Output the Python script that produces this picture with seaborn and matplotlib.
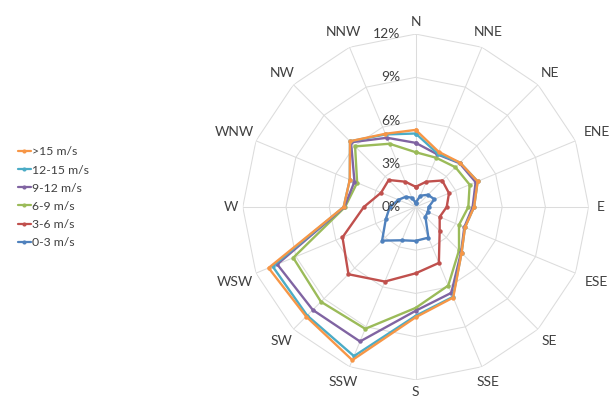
import numpy as np
import pandas as pd
import seaborn as sns
import matplotlib.pyplot as plt
from matplotlib import transforms
from matplotlib.lines import Line2D

# wind rose values (% of time)
directions = ['N', 'NNE', 'NE', 'ENE', 'E', 'ESE', 'SE', 'SSE',
              'S', 'SSW', 'SW', 'WSW', 'W', 'WNW', 'NW', 'NNW']
v_0_3 = [0.3, 0.85, 1.2, 1.4, 0.9, 0.9, 0.95, 2.3, 2.35, 2.5, 3.3, 2.25, 1.8, 1.3, 1.0, 0.7]
v_3_6 = [1.4, 1.9, 2.6, 2.5, 2.15, 1.8, 2.35, 4.2, 4.6, 5.6, 6.6, 5.5, 3.6, 2.6, 2.65, 1.9]
v_6_9 = [3.8, 3.7, 3.9, 4.05, 3.65, 3.25, 4.25, 5.9, 7.0, 9.15, 9.3, 9.2, 4.9, 4.4, 5.95, 4.75]
v_9_12 = [4.45, 3.95, 4.3, 4.5, 3.95, 3.65, 4.45, 6.45, 7.2, 10.1, 10.1, 10.4, 4.95, 4.6, 6.35, 5.2]
v_12_15 = [5.1, 4.0, 4.35, 4.65, 4.05, 3.7, 4.5, 6.75, 7.55, 11.2, 10.65, 10.75, 5.0, 4.95, 6.45, 5.45]
v_15 = [5.35, 4.15, 4.35, 4.65, 4.05, 3.7, 4.5, 6.8, 7.65, 11.5, 10.75, 11.05, 5.0, 4.95, 6.45, 5.5]
series = ['0-3 m/s', '3-6 m/s', '6-9 m/s', '9-12 m/s', '12-15 m/s', '>15 m/s']
values = [v_0_3, v_3_6, v_6_9, v_9_12, v_12_15, v_15]
rings = [3, 6, 9, 12]
ring_labels = ['0%', '3%', '6%', '9%', '12%']
colors = ['#4F81BD', '#C0504D', '#9BBB59', '#8064A2', '#4BACC6', '#F79646']

sns.set_style('white')
plt.rcParams['font.family'] = ['Lato', 'DejaVu Sans']
txt = '#404040'

theta = np.linspace(0, 2 * np.pi, len(directions), endpoint=False)
theta_c = np.append(theta, 2 * np.pi)

rows = []
for name, vals in zip(series, values):
    vv = list(vals) + [vals[0]]
    for t, v in zip(theta_c, vv):
        rows.append({'theta': t, 'value': v, 'series': name})
df = pd.DataFrame(rows)

fig = plt.figure(figsize=(6.1, 4.0), dpi=100)
ax = fig.add_axes([0.398, 0.05, 0.567, 0.865], projection='polar')
ax.set_theta_zero_location('N')
ax.set_theta_direction(-1)

# polygon grid like the spreadsheet radar chart
for r in rings:
    ax.plot(theta_c, [r] * len(theta_c), color='#dcdcdc', lw=0.75, zorder=1)

sns.lineplot(data=df, x='theta', y='value', hue='series', hue_order=series,
             palette=colors, marker='o', markersize=3.2, markeredgewidth=0,
             lw=1.7, sort=False, estimator=None, legend=False, ax=ax, zorder=3)

ax.set_ylim(0, 12)
ax.set_yticks([])
ax.yaxis.grid(False)
ax.xaxis.grid(True, color='#dcdcdc', lw=0.75)
ax.spines['polar'].set_visible(False)
ax.set_xticks(theta)
ax.set_xticklabels([])
ax.set_xlabel('')
ax.set_ylabel('')

# direction labels centred just outside the outer ring
for t, lab in zip(theta, directions):
    r_lab = 12.85 + 0.4 * (len(lab) - 1) * abs(np.sin(t))
    ax.text(t, r_lab, lab, ha='center', va='center', fontsize=10, color=txt, clip_on=False)

off = transforms.offset_copy(ax.transData, fig=fig, x=-15, y=0, units='dots')
for r, lab in zip([0] + rings, ring_labels):
    ax.text(0, r, lab, transform=off, ha='right', va='center', fontsize=10, color=txt)

handles = [Line2D([0], [0], color=c, lw=1.6, marker='o', markersize=3, markeredgewidth=0)
           for c in colors][::-1]
fig.legend(handles, series[::-1], loc='center left', bbox_to_anchor=(0.012, 0.507),
           frameon=False, fontsize=8.8, handlelength=1.0, handletextpad=0.15,
           labelspacing=0.58, labelcolor=txt)

fig.savefig('out.png', dpi=100)
